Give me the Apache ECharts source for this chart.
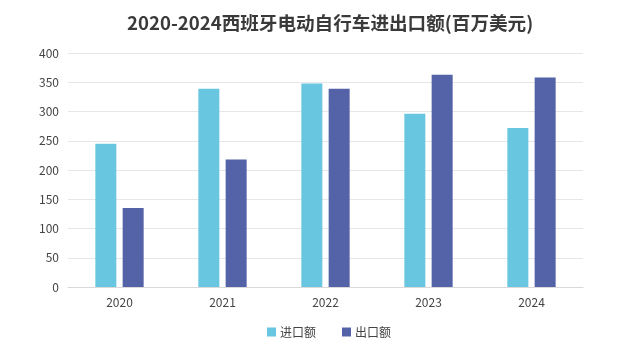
<!DOCTYPE html>
<html><head><meta charset="utf-8">
<script src="https://cdn.jsdelivr.net/npm/echarts@6/dist/echarts.min.js"></script>
<style>html,body{margin:0;padding:0;background:#fff}#c{width:641px;height:357px}</style>
</head><body><div id="c"></div>
<script>
const categories = ['2020','2021','2022','2023','2024'];
const importValues = [245, 339, 348, 296, 272];
const exportValues = [135, 218, 339, 363, 358];
const seriesNames = ['进口额','出口额'];
const chart = echarts.init(document.getElementById('c'));
const font = '"Noto Sans CJK SC", "Noto Sans", sans-serif';
chart.setOption({
  animation: false,
  title: {text: '2020-2024西班牙电动自行车进出口额(百万美元)', left: 122, top: 9,
    textStyle: {fontFamily: font, fontSize: 18.6, fontWeight: 'bold', color: '#3a3a3a'}},
  legend: {data: seriesNames, bottom: 14, left: 262, itemWidth: 9, itemHeight: 9, itemGap: 26, icon: 'rect',
    textStyle: {fontFamily: font, fontSize: 12, color: '#444', padding: [0, 0, 0, -1]}},
  grid: {left: 68, right: 58, top: 53, bottom: 70},
  xAxis: {type: 'category', data: categories,
    axisLine: {lineStyle: {color: '#d9d9d9'}}, axisTick: {show: false},
    axisLabel: {fontFamily: font, fontSize: 12, color: '#444', margin: 9}},
  yAxis: {type: 'value', min: 0, max: 400, interval: 50,
    axisLine: {show: false}, axisTick: {show: false},
    splitLine: {lineStyle: {color: '#e6e6e6'}},
    axisLabel: {fontFamily: font, fontSize: 12, color: '#444', margin: 9}},
  series: [
    {name: seriesNames[0], type: 'bar', data: importValues, barWidth: 21, barGap: '30%', itemStyle: {color: '#68C6E0'}},
    {name: seriesNames[1], type: 'bar', data: exportValues, barWidth: 21, itemStyle: {color: '#5462A8'}}
  ]
});
</script></body></html>
